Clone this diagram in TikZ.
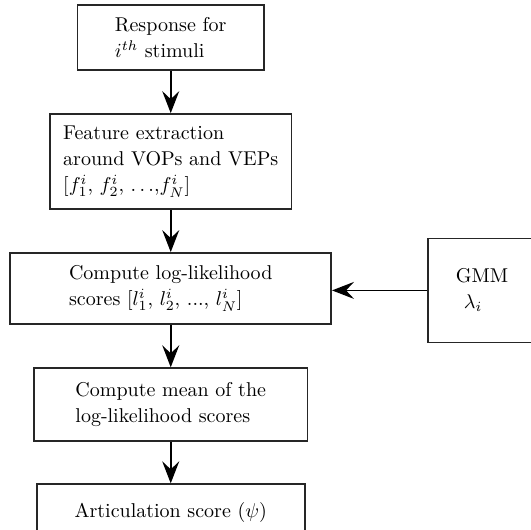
\documentclass[tikz,border=0pt]{standalone}
\usetikzlibrary{positioning,arrows.meta}
\tikzset{
  stagebox/.style={draw=black!85,line width=0.8pt,align=left,inner sep=0pt,
        font=\fontsize{10}{13}\selectfont},
  flowarrow/.style={line width=0.8pt,-{Stealth[length=11pt,width=8.5pt,inset=4pt]}},
}

\begin{document}
\begin{tikzpicture}
  \useasboundingbox (0,0) rectangle (9.313,9.313);
  \node[stagebox,minimum width=3.27cm,minimum height=1.14cm] (resp) at (3.0,8.655)
        {Response for\\$i^{th}$ stimuli};
  \node[stagebox,minimum width=4.24cm,minimum height=1.67cm] (feat) at (3.0,6.476)
        {Feature extraction\\around VOPs and VEPs\\$[f_1^i$, $f_2^i$, $\ldots$,$f_N^i]$};
  \node[stagebox,minimum width=5.64cm,minimum height=1.25cm] (llscore) at (3.0,4.244)
        {Compute log-likelihood\\scores $[l_1^i$, $l_2^i$, ..., $l_N^i]$};
  \node[stagebox,minimum width=1.90cm,minimum height=1.83cm] (gmm) at (8.470,4.210)
        {GMM\\\hspace{4pt}$\lambda_i$};
  \node[stagebox,minimum width=4.80cm,minimum height=1.28cm] (mean) at (3.0,2.205)
        {Compute mean of the\\log-likelihood scores};
  \node[stagebox,minimum width=4.71cm,minimum height=0.98cm] (artic) at (3.0,0.316)
        {Articulation score ($\psi$)};
  \foreach \a/\b in {resp/feat, feat/llscore, llscore/mean, mean/artic}
    \draw[flowarrow] (\a) -- (\b);
  \draw[flowarrow] (gmm.west) -- (gmm.west -| llscore.east);
\end{tikzpicture}
\end{document}
